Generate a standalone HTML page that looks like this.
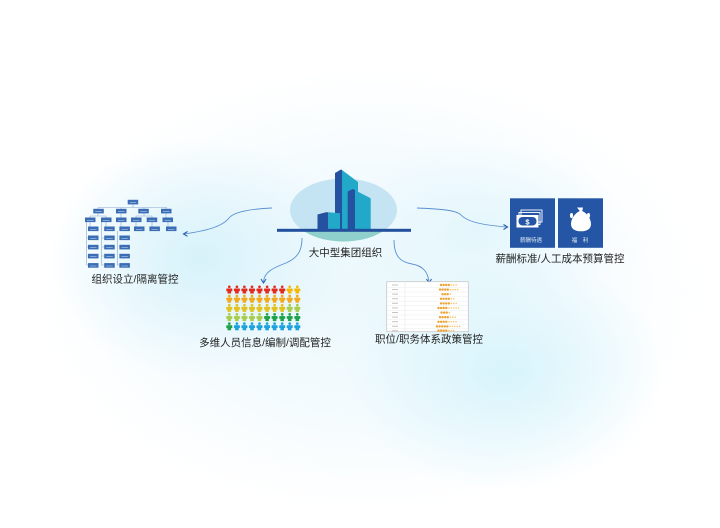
<!DOCTYPE html>
<html><head><meta charset="utf-8"><style>
html,body{margin:0;padding:0;}
body{width:720px;height:528px;overflow:hidden;position:relative;
background:
radial-gradient(ellipse 150px 120px at 200px 258px, rgba(212,241,250,0.9) 0%, rgba(212,241,250,0) 100%),
radial-gradient(ellipse 160px 120px at 505px 372px, rgba(212,243,251,0.9) 0%, rgba(212,243,251,0) 100%),
radial-gradient(ellipse 140px 90px at 480px 230px, rgba(222,245,252,0.7) 0%, rgba(222,245,252,0) 100%),
radial-gradient(ellipse 330px 220px at 370px 290px, #ebf8fc 0%, #f4fbfe 55%, #ffffff 100%);}
svg{position:absolute;left:0;top:0;}
text{font-family:"Liberation Sans","Noto Sans CJK SC",sans-serif;}
</style></head><body>
<svg width="720" height="528" viewBox="0 0 720 528" xmlns="http://www.w3.org/2000/svg">
<defs>
<clipPath id="above"><rect x="280" y="150" width="140" height="80"/></clipPath>
<clipPath id="below"><rect x="280" y="230" width="140" height="30"/></clipPath>
<g id="p"><circle cx="0" cy="1.3" r="1.35"/><rect x="-3" y="3" width="6" height="2.8" rx="0.6"/><rect x="-1.8" y="3" width="3.6" height="5"/></g>
<g id="b"><rect x="0" y="0" width="10.5" height="4.6" fill="#3a6db5"/><rect x="2" y="2.6" width="6.5" height="0.6" fill="#b9cde9"/></g>
</defs>

<!-- central building -->
<ellipse cx="343.5" cy="210" rx="53.5" ry="31.5" fill="#c4e3f3" clip-path="url(#above)"/>
<ellipse cx="343.5" cy="210" rx="53.5" ry="31.5" fill="#8fd0cc" clip-path="url(#below)"/>
<polygon points="335,173 341,169.5 342,170 342,229 335,229" fill="#2452a0"/>
<polygon points="342,170 358,182 358,229 342,229" fill="#22a9c9"/>
<polygon points="347.7,191.5 352.7,189 355,189.5 355,229 347.7,229" fill="#2452a0"/>
<polygon points="352.7,189 370.7,198.3 370.7,229 355,229 355,189.5" fill="#22a9c9"/>
<polygon points="317.5,214.5 326,212.3 328.3,212.3 328.3,229 317.5,229" fill="#2452a0"/>
<polygon points="328.3,212.3 340,213.3 340,229 328.3,229" fill="#22a9c9"/>
<rect x="277" y="228.8" width="134" height="3" fill="#22509d"/>
<text x="345.5" y="256" font-size="10.5" text-anchor="middle" fill="#222">大中型集团组织</text>

<!-- connectors -->
<g fill="none" stroke="#5a8fd0" stroke-width="0.9">
<path d="M272,208 C250,209 234,212 229,218 C222,227 205,231 184,234"/>
<path d="M302,238 C302,252 297,258 286,263 C273,268 264,272 263.5,282"/>
<path d="M394,240 C394,256 400,262 412,264 C424,266 428,273 429,282"/>
<path d="M417,208 C440,209 454,210 460,214 C467,222 482,225 507,227"/>
</g>
<g fill="none" stroke="#2c5fb3" stroke-width="1.1">
<path d="M187.5,231.5 L183.5,234 L187.5,236.3"/>
<path d="M261,279 L263.5,283 L266,279"/>
<path d="M426.5,279 L429,283 L431.5,279"/>
<path d="M503.5,224.5 L507.5,227 L503.5,229.5"/>
</g>

<!-- org chart -->
<g stroke="#8aa8cf" stroke-width="0.6" fill="none">
<path d="M133,204 V207.5 M98,207.5 H167 M98,207.5 V209 M121,207.5 V209 M144,207.5 V209 M166,207.5 V209"/>
<path d="M98,213.3 V216 M90,216 H106 M90,216 V217.7 M106,216 V217.7 M121,213.3 V217.7 M144,213.3 V216 M136,216 H152 M136,216 V217.7 M152,216 V217.7 M166,213.3 V217.7"/>
<path d="M90,222 V226.7 M106,222 V226.7 M121,222 V226.7 M136,222 V226.7 M152,222 V226.7 M168,222 V226.7"/>
<path d="M86.7,222 V265 H88.3 M86.7,238 H88.3 M86.7,247 H88.3 M86.7,256 H88.3 M101.7,222 V265 H104 M101.7,238 H104 M101.7,247 H104 M101.7,256 H104 M117.5,231 V265 H119.3"/>
</g>
<use href="#b" x="127.7" y="199.8"/>
<use href="#b" x="93.3" y="208.8"/><use href="#b" x="116" y="208.8"/><use href="#b" x="138.3" y="208.8"/><use href="#b" x="161" y="208.8"/>
<use href="#b" x="85" y="217.5"/><use href="#b" x="101" y="217.5"/><use href="#b" x="116" y="217.5"/><use href="#b" x="131" y="217.5"/><use href="#b" x="146.7" y="217.5"/><use href="#b" x="162.5" y="217.5"/>
<use href="#b" x="88" y="226.5"/><use href="#b" x="104.2" y="226.5"/><use href="#b" x="119.4" y="226.5"/><use href="#b" x="134" y="226.5"/><use href="#b" x="149.4" y="226.5"/><use href="#b" x="166" y="226.5"/>
<use href="#b" x="88" y="235.5"/><use href="#b" x="104.2" y="235.5"/><use href="#b" x="119.4" y="235.5"/>
<use href="#b" x="88" y="244.8"/><use href="#b" x="104.2" y="244.8"/><use href="#b" x="119.4" y="244.8"/>
<use href="#b" x="88" y="253.8"/><use href="#b" x="104.2" y="253.8"/><use href="#b" x="119.4" y="253.8"/>
<use href="#b" x="88" y="263.1"/><use href="#b" x="104.2" y="263.1"/><use href="#b" x="119.4" y="263.1"/>
<text x="135" y="282.5" font-size="10.5" text-anchor="middle" fill="#222">组织设立/隔离管控</text>

<!-- people grid -->
<g fill="#e5291c">
<use href="#p" x="229.3" y="285.5"/><use href="#p" x="236.9" y="285.5"/><use href="#p" x="244.4" y="285.5"/><use href="#p" x="252" y="285.5"/><use href="#p" x="259.5" y="285.5"/><use href="#p" x="267.1" y="285.5"/><use href="#p" x="274.6" y="285.5"/><use href="#p" x="282.2" y="285.5"/>
</g>
<g fill="#f6b800"><use href="#p" x="289.7" y="285.5"/><use href="#p" x="297.3" y="285.5"/></g>
<g fill="#f4a91c">
<use href="#p" x="229.3" y="294.7"/><use href="#p" x="236.9" y="294.7"/><use href="#p" x="244.4" y="294.7"/><use href="#p" x="252" y="294.7"/><use href="#p" x="259.5" y="294.7"/><use href="#p" x="267.1" y="294.7"/><use href="#p" x="274.6" y="294.7"/><use href="#p" x="282.2" y="294.7"/><use href="#p" x="289.7" y="294.7"/><use href="#p" x="297.3" y="294.7"/>
</g>
<g fill="#e3c21e">
<use href="#p" x="229.3" y="303.9"/><use href="#p" x="236.9" y="303.9"/><use href="#p" x="244.4" y="303.9"/><use href="#p" x="252" y="303.9"/><use href="#p" x="259.5" y="303.9"/><use href="#p" x="267.1" y="303.9"/><use href="#p" x="274.6" y="303.9"/><use href="#p" x="282.2" y="303.9"/>
</g>
<g fill="#a8cd4c"><use href="#p" x="289.7" y="303.9"/><use href="#p" x="297.3" y="303.9"/>
<use href="#p" x="229.3" y="313.1"/><use href="#p" x="236.9" y="313.1"/><use href="#p" x="244.4" y="313.1"/><use href="#p" x="252" y="313.1"/><use href="#p" x="259.5" y="313.1"/></g>
<g fill="#1fa24b"><use href="#p" x="267.1" y="313.1"/><use href="#p" x="274.6" y="313.1"/><use href="#p" x="282.2" y="313.1"/><use href="#p" x="289.7" y="313.1"/><use href="#p" x="297.3" y="313.1"/>
<use href="#p" x="229.3" y="322.3"/></g>
<g fill="#1ea2de"><use href="#p" x="236.9" y="322.3"/><use href="#p" x="244.4" y="322.3"/><use href="#p" x="252" y="322.3"/><use href="#p" x="259.5" y="322.3"/><use href="#p" x="267.1" y="322.3"/><use href="#p" x="274.6" y="322.3"/><use href="#p" x="282.2" y="322.3"/><use href="#p" x="289.7" y="322.3"/><use href="#p" x="297.3" y="322.3"/></g>
<text x="265" y="346" font-size="10.5" text-anchor="middle" fill="#222">多维人员信息/编制/调配管控</text>

<!-- table -->
<rect x="386.7" y="281.7" width="81.6" height="50" fill="#ffffff" stroke="#c9c9c9" stroke-width="0.8"/>
<line x1="405" y1="282" x2="405" y2="331" stroke="#e6e6e6" stroke-width="0.6"/>
<g stroke="#ececec" stroke-width="0.5">
<line x1="387" y1="287.5" x2="468" y2="287.5"/><line x1="387" y1="292" x2="468" y2="292"/><line x1="387" y1="296.6" x2="468" y2="296.6"/><line x1="387" y1="301.2" x2="468" y2="301.2"/><line x1="387" y1="305.8" x2="468" y2="305.8"/><line x1="387" y1="310.4" x2="468" y2="310.4"/><line x1="387" y1="315" x2="468" y2="315"/><line x1="387" y1="319.6" x2="468" y2="319.6"/><line x1="387" y1="324.2" x2="468" y2="324.2"/><line x1="387" y1="328.8" x2="468" y2="328.8"/>
</g>
<g fill="#c4c4c4">
<rect x="392" y="284.5" width="6" height="1"/><rect x="392" y="289" width="6" height="1"/><rect x="392" y="293.6" width="6" height="1"/><rect x="392" y="298.2" width="6" height="1"/><rect x="392" y="302.8" width="6" height="1"/><rect x="392" y="307.4" width="6" height="1"/><rect x="392" y="312" width="6" height="1"/><rect x="392" y="316.6" width="6" height="1"/><rect x="392" y="321.2" width="6" height="1"/><rect x="392" y="325.8" width="6" height="1"/><rect x="392" y="330.2" width="6" height="1"/>
</g>
<g fill="#eea232">
<circle cx="441" cy="285" r="1.2"/><circle cx="443.6" cy="285" r="1.2"/><circle cx="446.2" cy="285" r="1.2"/><circle cx="448.8" cy="285" r="1.2"/>
<circle cx="440" cy="289.6" r="1.2"/><circle cx="442.6" cy="289.6" r="1.2"/><circle cx="445.2" cy="289.6" r="1.2"/><circle cx="447.8" cy="289.6" r="1.2"/>
<circle cx="442.5" cy="294.2" r="1.2"/><circle cx="445.1" cy="294.2" r="1.2"/><circle cx="447.7" cy="294.2" r="1.2"/>
<circle cx="441" cy="298.8" r="1.2"/><circle cx="443.6" cy="298.8" r="1.2"/><circle cx="446.2" cy="298.8" r="1.2"/><circle cx="448.8" cy="298.8" r="1.2"/>
<circle cx="441" cy="303.4" r="1.2"/><circle cx="443.6" cy="303.4" r="1.2"/><circle cx="446.2" cy="303.4" r="1.2"/><circle cx="448.8" cy="303.4" r="1.2"/>
<circle cx="438.5" cy="308" r="1.2"/><circle cx="441.1" cy="308" r="1.2"/><circle cx="443.7" cy="308" r="1.2"/><circle cx="446.3" cy="308" r="1.2"/>
<circle cx="441.5" cy="312.6" r="1.2"/><circle cx="444.1" cy="312.6" r="1.2"/><circle cx="446.7" cy="312.6" r="1.2"/>
<circle cx="440" cy="317.2" r="1.2"/><circle cx="442.6" cy="317.2" r="1.2"/><circle cx="445.2" cy="317.2" r="1.2"/><circle cx="447.8" cy="317.2" r="1.2"/>
<circle cx="438.5" cy="321.8" r="1.2"/><circle cx="441.1" cy="321.8" r="1.2"/><circle cx="443.7" cy="321.8" r="1.2"/><circle cx="446.3" cy="321.8" r="1.2"/>
<circle cx="437" cy="326.4" r="1.2"/><circle cx="439.6" cy="326.4" r="1.2"/><circle cx="442.2" cy="326.4" r="1.2"/><circle cx="444.8" cy="326.4" r="1.2"/><circle cx="447.4" cy="326.4" r="1.2"/>
<circle cx="438.5" cy="330.6" r="1.2"/><circle cx="441.1" cy="330.6" r="1.2"/><circle cx="443.7" cy="330.6" r="1.2"/><circle cx="446.3" cy="330.6" r="1.2"/>
</g>
<g fill="#f4c56b">
<circle cx="451.4" cy="285" r="0.8"/><circle cx="453.8" cy="285" r="0.8"/><circle cx="456.2" cy="285" r="0.8"/>
<circle cx="450.4" cy="289.6" r="0.8"/><circle cx="452.8" cy="289.6" r="0.8"/><circle cx="455.2" cy="289.6" r="0.8"/><circle cx="457.6" cy="289.6" r="0.8"/>
<circle cx="450.3" cy="294.2" r="0.8"/>
<circle cx="451.4" cy="298.8" r="0.8"/><circle cx="453.8" cy="298.8" r="0.8"/>
<circle cx="451.4" cy="303.4" r="0.8"/><circle cx="453.8" cy="303.4" r="0.8"/><circle cx="456.2" cy="303.4" r="0.8"/>
<circle cx="448.9" cy="308" r="0.8"/><circle cx="451.3" cy="308" r="0.8"/><circle cx="453.7" cy="308" r="0.8"/><circle cx="456.1" cy="308" r="0.8"/><circle cx="458.5" cy="308" r="0.8"/>
<circle cx="449.3" cy="312.6" r="0.8"/>
<circle cx="450.4" cy="317.2" r="0.8"/><circle cx="452.8" cy="317.2" r="0.8"/><circle cx="455.2" cy="317.2" r="0.8"/>
<circle cx="448.9" cy="321.8" r="0.8"/><circle cx="451.3" cy="321.8" r="0.8"/><circle cx="453.7" cy="321.8" r="0.8"/><circle cx="456.1" cy="321.8" r="0.8"/>
<circle cx="450" cy="326.4" r="0.8"/><circle cx="452.4" cy="326.4" r="0.8"/><circle cx="454.8" cy="326.4" r="0.8"/><circle cx="457.2" cy="326.4" r="0.8"/><circle cx="459.6" cy="326.4" r="0.8"/>
<circle cx="448.9" cy="330.6" r="0.8"/><circle cx="451.3" cy="330.6" r="0.8"/><circle cx="453.7" cy="330.6" r="0.8"/>
</g>
<text x="429" y="342.5" font-size="10.5" text-anchor="middle" fill="#222">职位/职务体系政策管控</text>

<!-- right tiles -->
<rect x="510" y="198.3" width="45" height="49.5" fill="#2456a5"/>
<rect x="558" y="198.3" width="45" height="49.5" fill="#2456a5"/>
<g fill="none" stroke="#ffffff" stroke-width="0.9">
<rect x="521" y="210" width="21" height="12"/>
<rect x="519" y="212.5" width="21" height="12"/>
</g>
<rect x="516.5" y="215" width="22" height="12.5" fill="#ffffff"/>
<rect x="518.5" y="217" width="18" height="8.5" rx="4" fill="#2456a5"/>
<text x="527.5" y="224.3" font-size="7.5" font-weight="bold" text-anchor="middle" fill="#ffffff">$</text>
<text x="531" y="242" font-size="5.5" text-anchor="middle" fill="#dfe8f5">薪酬待遇</text>
<path d="M577,207.5 h6 l-0.8,3.5 c5,2.2 8.8,8 8.8,13 c0,5 -4,7.3 -10,7.3 c-6,0 -10,-2.3 -10,-7.3 c0,-5 3.8,-10.8 8.8,-13 z" fill="#ffffff"/>
<ellipse cx="571.5" cy="215.5" rx="1.6" ry="2.6" fill="#ffffff"/>
<ellipse cx="588.5" cy="215.5" rx="1.6" ry="2.6" fill="#ffffff"/>
<text x="580" y="242" font-size="5.5" text-anchor="middle" fill="#dfe8f5">福　利</text>
<text x="560" y="262" font-size="10.5" text-anchor="middle" fill="#222">薪酬标准/人工成本预算管控</text>
</svg>
</body></html>
